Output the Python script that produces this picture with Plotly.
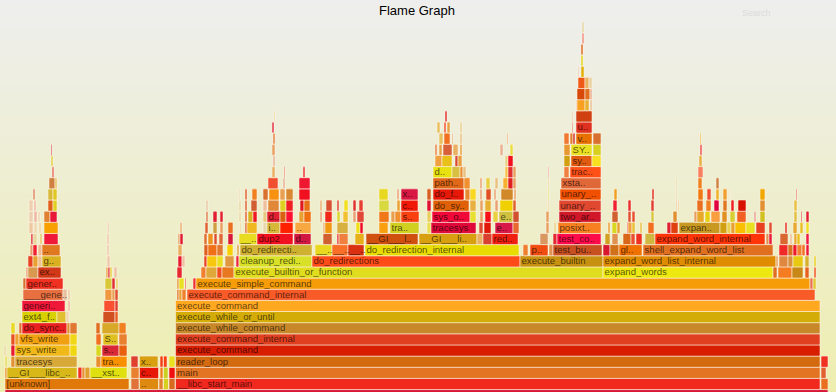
import plotly.graph_objects as go

title_text = "Flame Graph"
search_text = "Search"

spans = {}
fills = {}
names = {}

spans[-1] = [(5, 828)]
fills[-1] = ["d81838"]
names[-1] = {}

spans[0] = [(5, 129), (131, 139), (139.5, 158.5), (159, 163), (163.5, 168.5), (169, 175), (175.5, 820), (821, 828)]
fills[0] = ["e0780a", "e0723a", "de8a10", "e08030", "d8d020", "d86a20", "f0281e", "e87020"]
names[0] = {0: "[unknown]", 2: "..", 6: "__libc_start_main"}

spans[1] = [(5, 7), (7, 77), (78, 82), (82, 85), (85, 90), (90, 127), (131, 139), (139.5, 158.5), (160, 163), (163.5, 168), (169, 175), (175.5, 820), (821, 826)]
fills[1] = ["e89020", "d8b818", "f03020", "e89030", "e0a030", "e0e010", "e88030", "e81808", "f08020", "c8d020", "f01010", "e27424", "e06030"]
names[1] = {1: "__GI___libc_..", 5: "__xst..", 7: "c..", 11: "main"}

spans[2] = [(5, 7.3), (11, 15), (15, 77), (96, 101), (101, 127), (131, 138), (139.5, 158), (160, 163), (163.5, 167), (169, 175), (175.5, 820), (821, 828)]
fills[2] = ["e8e060", "e09030", "d8a838", "e89030", "f89000", "e04030", "d8a010", "f04010", "f84010", "e8e020", "d46a10", "f03020"]
names[2] = {2: "tracesys", 4: "tra..", 6: "x..", 10: "reader_loop"}

spans[3] = [(4, 6), (11, 15), (15, 70), (70, 77), (96, 101), (102, 119), (119, 127), (175.5, 820)]
fills[3] = ["e8d8a0", "e81830", "f0b818", "f0d810", "d8d820", "d82838", "e86010", "d81e00"]
names[3] = {2: "sys_write", 5: "s..", 7: "execute_command"}

spans[4] = [(11, 15), (15, 19), (19, 70), (70, 77), (96, 101), (103, 118), (119, 127), (175.5, 820)]
fills[4] = ["e85020", "f0a030", "f0a010", "f0d818", "f07020", "e0c020", "e88030", "e04020"]
names[4] = {2: "vfs_write", 5: "S..", 7: "execute_command_internal"}

spans[5] = [(11, 15), (19, 22), (22, 67), (67, 70), (70, 77), (96, 100), (102, 119), (119, 126), (175.5, 820)]
fills[5] = ["e8d820", "e07030", "e82020", "e09030", "e07830", "e07020", "d8a828", "f08020", "c8882a"]
names[5] = {2: "do_sync..", 8: "execute_while_command"}

spans[6] = [(22, 57), (57, 66), (66, 69), (103, 115), (115, 118), (175.5, 820)]
fills[6] = ["d8d000", "e0c030", "eed8b0", "d05020", "e86020", "d4ac08"]
names[6] = {0: "ext4_f..", 5: "execute_while_or_until"}

spans[7] = [(22, 65), (68, 70), (104, 115), (115, 118), (175.5, 820)]
fills[7] = ["f01838", "eeb8a0", "f85030", "e04030", "ffa820"]
names[7] = {0: "generi..", 4: "execute_command"}

spans[8] = [(23, 63), (63, 67), (68, 70), (105, 112), (112, 115), (115, 118), (177, 179), (179, 182), (182, 186), (187, 815)]
fills[8] = ["e87040", "e8c0a0", "eec8a0", "f09840", "e8a050", "e05030", "e07020", "e8a030", "f08030", "f85a28"]
names[8] = {0: "___gene..", 9: "execute_command_internal"}

spans[9] = [(23, 26), (26, 63), (105, 112), (112, 115), (116, 118), (177, 179), (179, 184), (185, 186), (193, 196), (196, 810), (810, 813), (813, 816)]
fills[9] = ["d87030", "f03020", "d8c838", "e03030", "e8d060", "e09030", "e8e020", "e84020", "f03030", "f59c08", "e87050", "e0c830"]
names[9] = {1: "gener..", 9: "execute_simple_command"}

spans[10] = [(26, 28), (28, 38), (38, 61), (106, 108), (108, 110), (110, 112), (114, 117), (177, 182), (201, 206), (206, 217), (217, 222), (222, 234), (234, 603), (603, 773), (773, 777), (778, 792), (792, 803), (805, 809), (814, 816)]
fills[10] = ["e8a070", "d89850", "d03818", "e8a040", "e03030", "e8d040", "eec0a0", "e82830", "f08030", "e0a838", "f05020", "e87820", "e0dc1e", "ece810", "e07020", "f57c20", "c88818", "e86020", "f05020"]
names[10] = {2: "ex..", 12: "execute_builtin_or_function", 13: "expand_words"}

spans[11] = [(28, 33), (33, 38), (38, 42), (42, 61), (107, 110), (178, 182), (182, 185), (204, 207), (207, 217), (217, 223), (225, 234), (236, 239), (239, 312), (312, 520), (520, 603), (603, 776), (776, 778), (779, 788), (788, 793), (793, 803), (805, 809), (814, 816)]
fills[11] = ["e84020", "e8a030", "eec090", "d8b020", "eec8a8", "e81830", "eec0a0", "e84020", "f8c810", "e8e020", "e09840", "f02040", "d8e028", "ff4b18", "c89010", "e08c00", "e8a060", "e08840", "d89040", "e8c810", "d8b030", "e8d020"]
names[11] = {3: "g..", 12: "cleanup_redi..", 13: "do_redirections", 14: "execute_builtin", 15: "expand_word_list_internal"}

spans[12] = [(30, 33), (33, 37), (38, 42), (42, 60), (107, 109), (178, 182), (204, 208), (208, 217), (217, 223), (227, 233), (237, 239), (240, 312), (315, 332), (332, 348), (348, 364), (365, 519), (523, 528), (530, 548), (549, 553), (553, 602), (603, 610), (610, 619), (619, 642), (643, 773), (779, 788), (788, 793), (793, 797), (797, 802), (802, 805), (806, 809)]
fills[12] = ["e8a070", "f02030", "eeb890", "e07820", "eec8a8", "e8b060", "e06020", "f07018", "e07830", "f8d000", "e0a040", "d0b030", "e8d820", "f87028", "d83010", "e8dc00", "f08030", "f04c10", "e09050", "c85020", "d81830", "d07018", "f07000", "e07020", "f02828", "d87020", "f01828", "f08030", "f07020", "f01838"]
names[12] = {3: "..", 11: "do_redirecti..", 12: "__..", 13: "__..", 14: "__..", 15: "do_redirection_internal", 17: "p..", 19: "test_bu..", 22: "gl..", 23: "shell_expand_word_list"}

spans[13] = [(31, 33), (33, 37), (40, 42), (44, 58), (107, 109), (178, 180), (180, 183), (204, 207), (208, 213), (214, 217), (219, 223), (228, 233), (239, 257), (257, 293), (294, 311), (323, 332), (337, 339), (339, 348), (355, 364), (366, 418), (419, 477), (477, 483), (483, 492), (492, 518), (540, 548), (553, 557), (557, 601), (605, 610), (612, 618), (623, 631), (631, 635), (636, 642), (645, 655), (655, 765), (766, 769), (769, 772), (780, 788), (790, 792), (794, 797), (797, 800), (806, 809)]
fills[13] = ["e02030", "e8d8a0", "e8c060", "f01838", "eec8a8", "e8a060", "e01830", "e07030", "f09020", "e05030", "e06838", "d81838", "e8dc20", "f01020", "d01840", "d06030", "e03030", "f08040", "e8b018", "d05010", "d8a010", "e8b060", "d84030", "f02010", "d89860", "e02830", "ff0a4a", "d0a020", "e09050", "d86818", "e85030", "f03020", "d0b840", "ff3408", "e09050", "f01838", "d86830", "e8c090", "e8a830", "e8c020", "f01840"]
names[13] = {12: "__..", 13: "dup2", 14: "d..", 19: "__GI___l..", 20: "__GI___li..", 23: "red..", 26: "test_co..", 33: "expand_word_internal"}

spans[14] = [(29, 33), (34, 37), (39, 41), (44, 58), (107.5, 109), (180, 182), (205, 208), (213, 217), (220, 223), (228, 233), (239.5, 241), (245, 247), (247, 257), (263, 267), (267, 280), (280, 293), (295, 311), (323, 325), (325, 332), (337, 348), (356, 360), (360, 363), (379, 388), (390, 419), (427, 431), (431, 476), (479, 483), (484, 491), (495, 513), (513, 519), (546, 549), (554, 556), (558, 601), (608, 610), (612, 617), (617, 620), (627, 628), (628, 632), (632, 635), (640, 642), (648, 654), (667, 671), (671, 678), (679, 720), (720, 727), (727, 731), (731, 735), (735, 746), (746, 755), (756, 765), (769, 772), (785, 787), (793, 797), (800, 803), (806, 809)]
fills[14] = ["eec8a0", "eed8b0", "eed0a0", "f8a000", "eec8a8", "e8b070", "e06030", "d0a040", "e8a060", "e87020", "e8d8a0", "e06030", "f0b820", "e8d8b0", "d8b838", "ff2000", "f8a840", "e8b070", "f09810", "d8b040", "f0e010", "f00820", "f8a010", "d0d020", "e8e050", "e00838", "e04830", "e01808", "d81848", "e86830", "e8a060", "e8d080", "f88020", "e8a030", "d8d820", "e8a030", "e03030", "f0a040", "e8c030", "e8c040", "f07020", "e02030", "e04010", "c89820", "d0a010", "e8d050", "e8a030", "f8c000", "e8e020", "e84020", "e05030", "e83020", "e8a830", "e8c020", "f0e020"]
names[14] = {14: "i..", 16: "..", 23: "tra..", 25: "tracesys", 28: "e..", 32: "posixt..", 43: "expan.."}

spans[15] = [(29, 33), (34, 37), (38, 40), (44, 50), (50, 57), (206, 208), (213, 217), (220, 223), (239, 241), (245, 247), (248, 253), (253, 257), (263, 267), (267, 280), (280, 286), (286, 293), (299, 304), (304, 311), (320, 322), (325, 332), (337, 340), (343, 348), (353, 356), (357, 364), (379, 389), (391, 395), (395, 401), (401, 419), (427, 431), (432, 470), (470, 476), (480, 483), (485, 491), (493, 498), (499, 513), (513, 519), (546, 549), (559, 601), (612, 618), (628, 631), (632, 635), (651, 654), (673, 677), (694, 697), (697, 704), (705, 710), (711, 720), (722, 727), (730, 735), (737, 746), (754, 756), (760, 765), (794, 797), (801, 802), (806, 809)]
fills[15] = ["eed0b0", "eeb8a0", "eed8b0", "e08030", "e81838", "e08050", "e02030", "e02030", "e8d8a0", "e06030", "d8b020", "f01820", "e8c880", "e02030", "d86010", "ff1030", "e8a030", "f07010", "e8a070", "f02818", "d8d830", "f0c030", "e8a070", "e04838", "f07818", "e8a050", "f09030", "f84010", "e8d060", "f00838", "e8e030", "e8a060", "f81018", "e8d040", "d0c040", "d05030", "e8a060", "d01828", "d06030", "e05030", "e85030", "d8c840", "e09030", "e8a060", "e8a828", "e8d010", "f8a040", "e09020", "d8d030", "f06020", "e8a090", "d0c020", "e0c040", "e03030", "e02030"]
names[15] = {13: "d..", 27: "s..", 29: "sys_o..", 34: "e..", 37: "two_ar.."}

spans[16] = [(29, 33), (34, 36), (48, 53), (53, 57), (206, 208), (239, 241), (245, 247), (251, 257), (263, 267), (268, 279), (280, 286), (286, 293), (300, 304), (304, 310), (320, 322), (326, 332), (337, 339), (344, 348), (353, 356), (359, 363), (379, 389), (397, 400), (401, 418), (427, 431), (433, 469), (470, 476), (480, 483), (485, 491), (495, 498), (500, 513), (513, 516), (548, 549), (559, 601), (613, 617), (628, 631), (651, 654), (676, 677), (678, 679), (697, 703), (706, 711), (714, 719), (723, 727), (731, 734), (738, 746), (760, 765), (794, 797)]
fills[16] = ["eed0b0", "eeb8a0", "e06018", "e0d020", "e8c8a0", "e8d8a0", "e06030", "d06030", "eec0a0", "e08838", "e0d020", "f02020", "e01820", "e87018", "e8b070", "d85030", "e04030", "f0e020", "e03030", "e84030", "d8d840", "e8a030", "f01808", "e01030", "e06008", "e8b040", "e8a060", "e8b030", "e8a070", "f0d000", "e06030", "e8d080", "e04830", "f02030", "e83030", "e04030", "e8c080", "e8c080", "e87020", "f08020", "e00040", "e07820", "f02020", "d81000", "e09030", "e8c040"]
names[16] = {22: "c..", 24: "do_sy..", 32: "unary_.."}

spans[17] = [(33, 35), (48, 53), (53, 57), (239, 240), (245, 247), (252, 257), (263, 268), (269, 279), (280, 285), (286, 293), (299, 310), (379, 388), (397, 399), (401, 418), (427, 431), (433, 464), (465, 470), (470, 476), (480, 482), (486, 491), (494, 496), (501, 513), (514, 516), (548, 549), (560, 601), (614, 617), (652, 654), (676, 677), (698, 703), (707, 711), (716, 719), (723, 727), (729.5, 730), (760, 765), (796, 797)]
fills[17] = ["e08860", "d8b838", "e0c820", "e8d8a0", "e06030", "f08020", "d87030", "f89010", "e8a050", "d88830", "f01020", "e8d820", "e8a070", "d81840", "d86020", "e81808", "e88830", "f8d820", "e8a070", "e05020", "e8a070", "d08828", "e8a060", "e8e060", "f05000", "f0a020", "e03020", "e8d090", "f07810", "f05030", "f0b020", "f0a030", "e8b090", "f0a800", "e86050"]
names[17] = {13: "x..", 15: "do_f..", 24: "unary_.."}

spans[18] = [(49, 55), (55, 57), (268, 278), (283, 285), (299, 310), (433, 464), (464, 470), (480, 482), (486, 490), (495, 498), (503, 508), (508, 513), (513, 516), (548, 549), (561, 601), (676, 677), (698, 702), (716, 719)]
fills[18] = ["d08040", "e8c060", "f05030", "e8b090", "ee1830", "e06818", "f09030", "e8a070", "e8d040", "e8c080", "f8b030", "e02020", "e8a060", "e8d080", "e06838", "e8d090", "f08020", "d08040"]
names[18] = {5: "path..", 14: "xsta.."}

spans[19] = [(52, 54), (272, 275), (284, 285), (303, 305), (433, 452), (452, 460), (460, 463), (463, 466), (505, 508), (508, 513), (513, 516), (548, 549), (564, 569), (570, 601), (698, 703)]
fills[19] = ["e87060", "e8b060", "e87050", "e83030", "e8e010", "d8c040", "e89030", "e8c080", "f8c040", "e03030", "e8a060", "e8a090", "f08040", "ff5018", "f88060"]
names[19] = {4: "d..", 13: "trac.."}

spans[20] = [(51, 53), (273, 275), (435, 442), (442, 452), (455, 458), (458, 462), (505, 508), (508, 513), (564, 570), (571, 592), (592, 601), (699, 702)]
fills[20] = ["e0d040", "e8b090", "f0a040", "e8c018", "d84830", "e8a040", "e8d080", "f01020", "d0a010", "e05a10", "f8e020", "e8b040"]
names[20] = {9: "sy.."}

spans[21] = [(51, 52), (272, 275), (435, 437), (439, 442), (443, 452), (453, 458), (460, 462), (500, 503), (510, 513), (564, 570), (571, 592), (593, 601), (700, 702)]
fills[21] = ["d03040", "e8a060", "e88040", "e8a040", "d86038", "e8b060", "e8a040", "e8b090", "e8e040", "e89830", "e8e020", "d8d020", "f05050"]
names[21] = {10: "SY.."}

spans[22] = [(273, 275), (439, 443), (444, 450), (452, 453), (460, 462), (507, 508), (564, 569), (570, 573), (573, 575), (576, 592), (593, 601), (700, 701)]
fills[22] = ["e88040", "e8c060", "f07020", "e8a060", "e8c080", "e8a060", "f07830", "e08030", "d03030", "e87000", "d87030", "e8b020"]
names[22] = {9: "v.."}

spans[23] = [(272, 274), (437, 440), (444, 446), (447, 450), (460, 462), (572, 573), (576, 592)]
fills[23] = ["e03040", "e8c060", "f05030", "e8a040", "e8d090", "e87060", "e03020"]
names[23] = {6: "u.."}

spans[24] = [(274, 275), (445, 447), (572, 573), (576, 592)]
fills[24] = ["e8d080", "e03030", "e8c090", "d04010"]
names[24] = {}

spans[25] = [(576, 577), (577, 585), (585, 589), (590, 592)]
fills[25] = ["e8b090", "f8a020", "e8b030", "e8c090"]
names[25] = {}

spans[26] = [(577, 585), (585, 590), (590, 592)]
fills[26] = ["d84808", "e07020", "e8b090"]
names[26] = {}

spans[27] = [(578, 585), (585, 589), (589, 592)]
fills[27] = ["f05818", "e8b060", "e8d0a0"]
names[27] = {}

spans[28] = [(578, 579), (581, 584)]
fills[28] = ["e8c0a0", "e0b000"]
names[28] = {}

spans[29] = [(581, 583)]
fills[29] = ["e0d810"]
names[29] = {}

spans[30] = [(581, 583)]
fills[30] = ["e06820"]
names[30] = {}

spans[31] = [(582, 584)]
fills[31] = ["f09080"]
names[31] = {}

spans[32] = [(582, 584)]
fills[32] = ["e0d8a0"]
names[32] = {}

bar_y, bar_base, bar_len, bar_color = [], [], [], []
txt_x, txt_y, txt_s = [], [], []
for d in sorted(spans):
    for i, ((a, b), c) in enumerate(zip(spans[d], fills[d], strict=True)):
        bar_y.append(d)
        bar_base.append(a)
        bar_len.append(b - a)
        bar_color.append("#" + c)
        label = names[d].get(i, "")
        if label:
            txt_x.append(a + 1.5)
            txt_y.append(d - 0.05)
            txt_s.append(label)

fig = go.Figure()
fig.add_trace(go.Heatmap(
    x=[0, 836], y=[-0.8, 34.5], z=[[1, 1], [0, 0]], zsmooth="best",
    colorscale=[[0, "#eeeeee"], [1, "#eeeeb0"]], showscale=False, hoverinfo="skip",
))
fig.add_trace(go.Bar(
    y=bar_y, x=bar_len, base=bar_base, orientation="h", width=1.0,
    marker=dict(color=bar_color, line=dict(color="rgba(255,245,235,0.55)", width=1)),
    hoverinfo="skip",
))
fig.add_trace(go.Scatter(
    x=txt_x, y=txt_y, text=txt_s, mode="text", textposition="middle right",
    textfont=dict(family="Liberation Sans", size=9.6, color="rgba(0,0,0,0.66)"),
    hoverinfo="skip",
))
fig.update_layout(
    width=836, height=392, margin=dict(l=0, r=0, t=0, b=0),
    showlegend=False, plot_bgcolor="#eeeeee", paper_bgcolor="#eeeeee", barcornerradius=1,
    xaxis=dict(range=[0, 836], visible=False, fixedrange=True),
    yaxis=dict(range=[-0.72, 34.44], visible=False, fixedrange=True),
    annotations=[
        dict(text=title_text, xref="paper", yref="paper", x=417 / 836, y=1 - 11 / 392, yanchor="middle", showarrow=False,
             font=dict(family="Liberation Sans", size=13, color="#000000")),
        dict(text=search_text, xref="paper", yref="paper", x=773 / 836, y=1 - 13 / 392, yanchor="middle", showarrow=False,
             font=dict(family="Liberation Sans", size=9, color="#dcdcdc")),
    ],
)
fig.write_html("out.html", config={"displayModeBar": False},
               post_script="document.body.style.margin='0';document.body.style.overflow='hidden';")
